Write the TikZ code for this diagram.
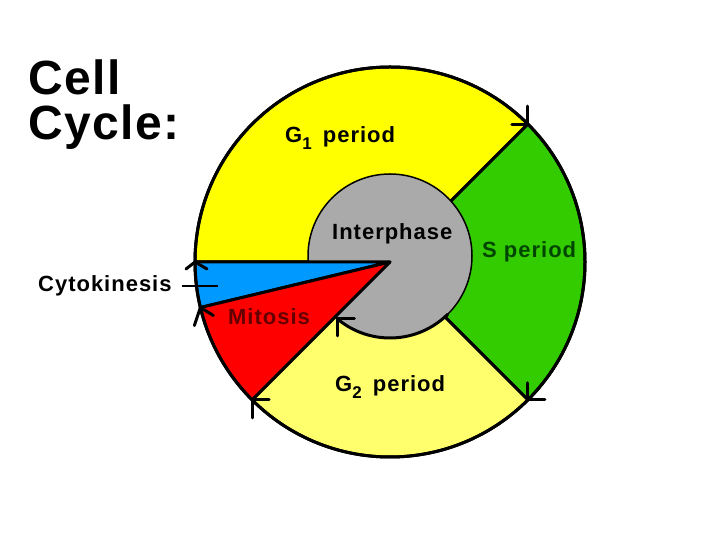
\documentclass[tikz,border=0pt]{standalone}
\usepackage{fontspec}
\usetikzlibrary{calc}
\setmainfont{Liberation Sans}
\newfontfamily\labfont[LetterSpace=4.5]{Liberation Sans Bold}
\newfontfamily\titlefont[LetterSpace=3]{Liberation Sans Bold}
\definecolor{gone}{RGB}{255,255,0}
\definecolor{gtwo}{RGB}{255,255,110}
\definecolor{sgreen}{RGB}{51,204,0}
\definecolor{cyto}{RGB}{0,153,255}
\definecolor{mito}{RGB}{255,0,0}
\definecolor{inter}{RGB}{170,170,170}
\definecolor{stext}{RGB}{0,70,0}
\definecolor{mtext}{RGB}{100,0,0}
\newcommand\lsub[1]{\raisebox{-7pt}{\fontsize{17}{17}\selectfont #1}}
\tikzset{
  bound/.style={draw=black, line width=3pt, line join=round},
  tick/.style={draw=black, line width=3pt, line cap=round},
  lab/.style={font=\labfont\fontsize{22}{24}\selectfont, inner sep=0pt, anchor=base west},
  ttl/.style={font=\titlefont\fontsize{48}{50}\selectfont, inner sep=0pt, anchor=base west}
}
\begin{document}
\begin{tikzpicture}[x=1pt,y=1pt]
\useasboundingbox (0,0) rectangle (720,540);
\fill[white] (0,0) rectangle (720,540);
\coordinate (O) at (390,278);
\coordinate (I) at (390,284);
% sectors
\path[bound, fill=gone] (O) -- ++(45:195pt) arc[start angle=45, end angle=180, radius=195pt] -- cycle;
\path[bound, fill=sgreen] (O) -- ++(-45:195pt) arc[start angle=-45, end angle=45, radius=195pt] -- cycle;
\path[bound, fill=gtwo] (O) -- ++(225:195pt) arc[start angle=225, end angle=315, radius=195pt] -- cycle;
% interphase disc
\fill[inter, draw=black, line width=1.5pt] (I) circle[radius=82pt];
% cytokinesis and mitosis wedges
\path[bound, fill=cyto] (O) -- ++(180:195pt) arc[start angle=180, end angle=193.5, radius=195pt] -- cycle;
\path[bound, fill=mito] (O) -- ++(193.5:195pt) arc[start angle=193.5, end angle=225, radius=195pt] -- cycle;
% outer circle
\draw[bound] (O) circle[radius=195pt];
% arc under interphase
\draw[bound] (I) ++(-45:82pt) arc[start angle=-45, end angle=-130, radius=82pt];
% arrow tips
\coordinate (t1) at ($(O)+(45:195pt)$);
\coordinate (t2) at ($(O)+(-45:195pt)$);
\coordinate (t3) at ($(O)+(225:195pt)$);
\coordinate (t4) at ($(O)+(193.5:195pt)$);
\coordinate (t5) at ($(O)+(180:195pt)$);
\coordinate (t6) at ($(I)+(230:82pt)$);
\draw[tick] ([shift={(0,18)}]t1) -- (t1) -- ([shift={(-16,0)}]t1);
\draw[tick] ([shift={(0,17)}]t2) -- (t2) -- ([shift={(17,0)}]t2);
\draw[tick] ([shift={(17,0)}]t3) -- (t3) -- ([shift={(0,-18)}]t3);
\draw[tick] ([shift={(13,-8)}]t4) -- (t4) -- ([shift={(-6,-18)}]t4);
\draw[tick] ([shift={(12,-7)}]t5) -- (t5) -- ([shift={(-9,-7)}]t5);
\draw[tick] ([shift={(17,0)}]t6) -- (t6) -- ([shift={(0,-17)}]t6);
% labels
\node[ttl] (cell) at (28,445) {Cell};
\node[ttl] (cycle) at (28,400) {Cycle:};
\node[lab] (g1) at (285,397) {G\lsub{1}\hspace{4pt} period};
\node[lab] (inph) at (332,300) {Interphase};
\node[lab, text=stext] (sp) at (482,282) {S period};
\node[lab] (cyk) at (38,248) {Cytokinesis};
\node[lab, text=mtext] (mit) at (228,215) {Mitosis};
\node[lab] (g2) at (335,148) {G\lsub{2}\hspace{4pt} period};
\coordinate (cykend) at (218,254);
\draw[line width=2pt] (182,254) -- (cykend);
\end{tikzpicture}
\end{document}
